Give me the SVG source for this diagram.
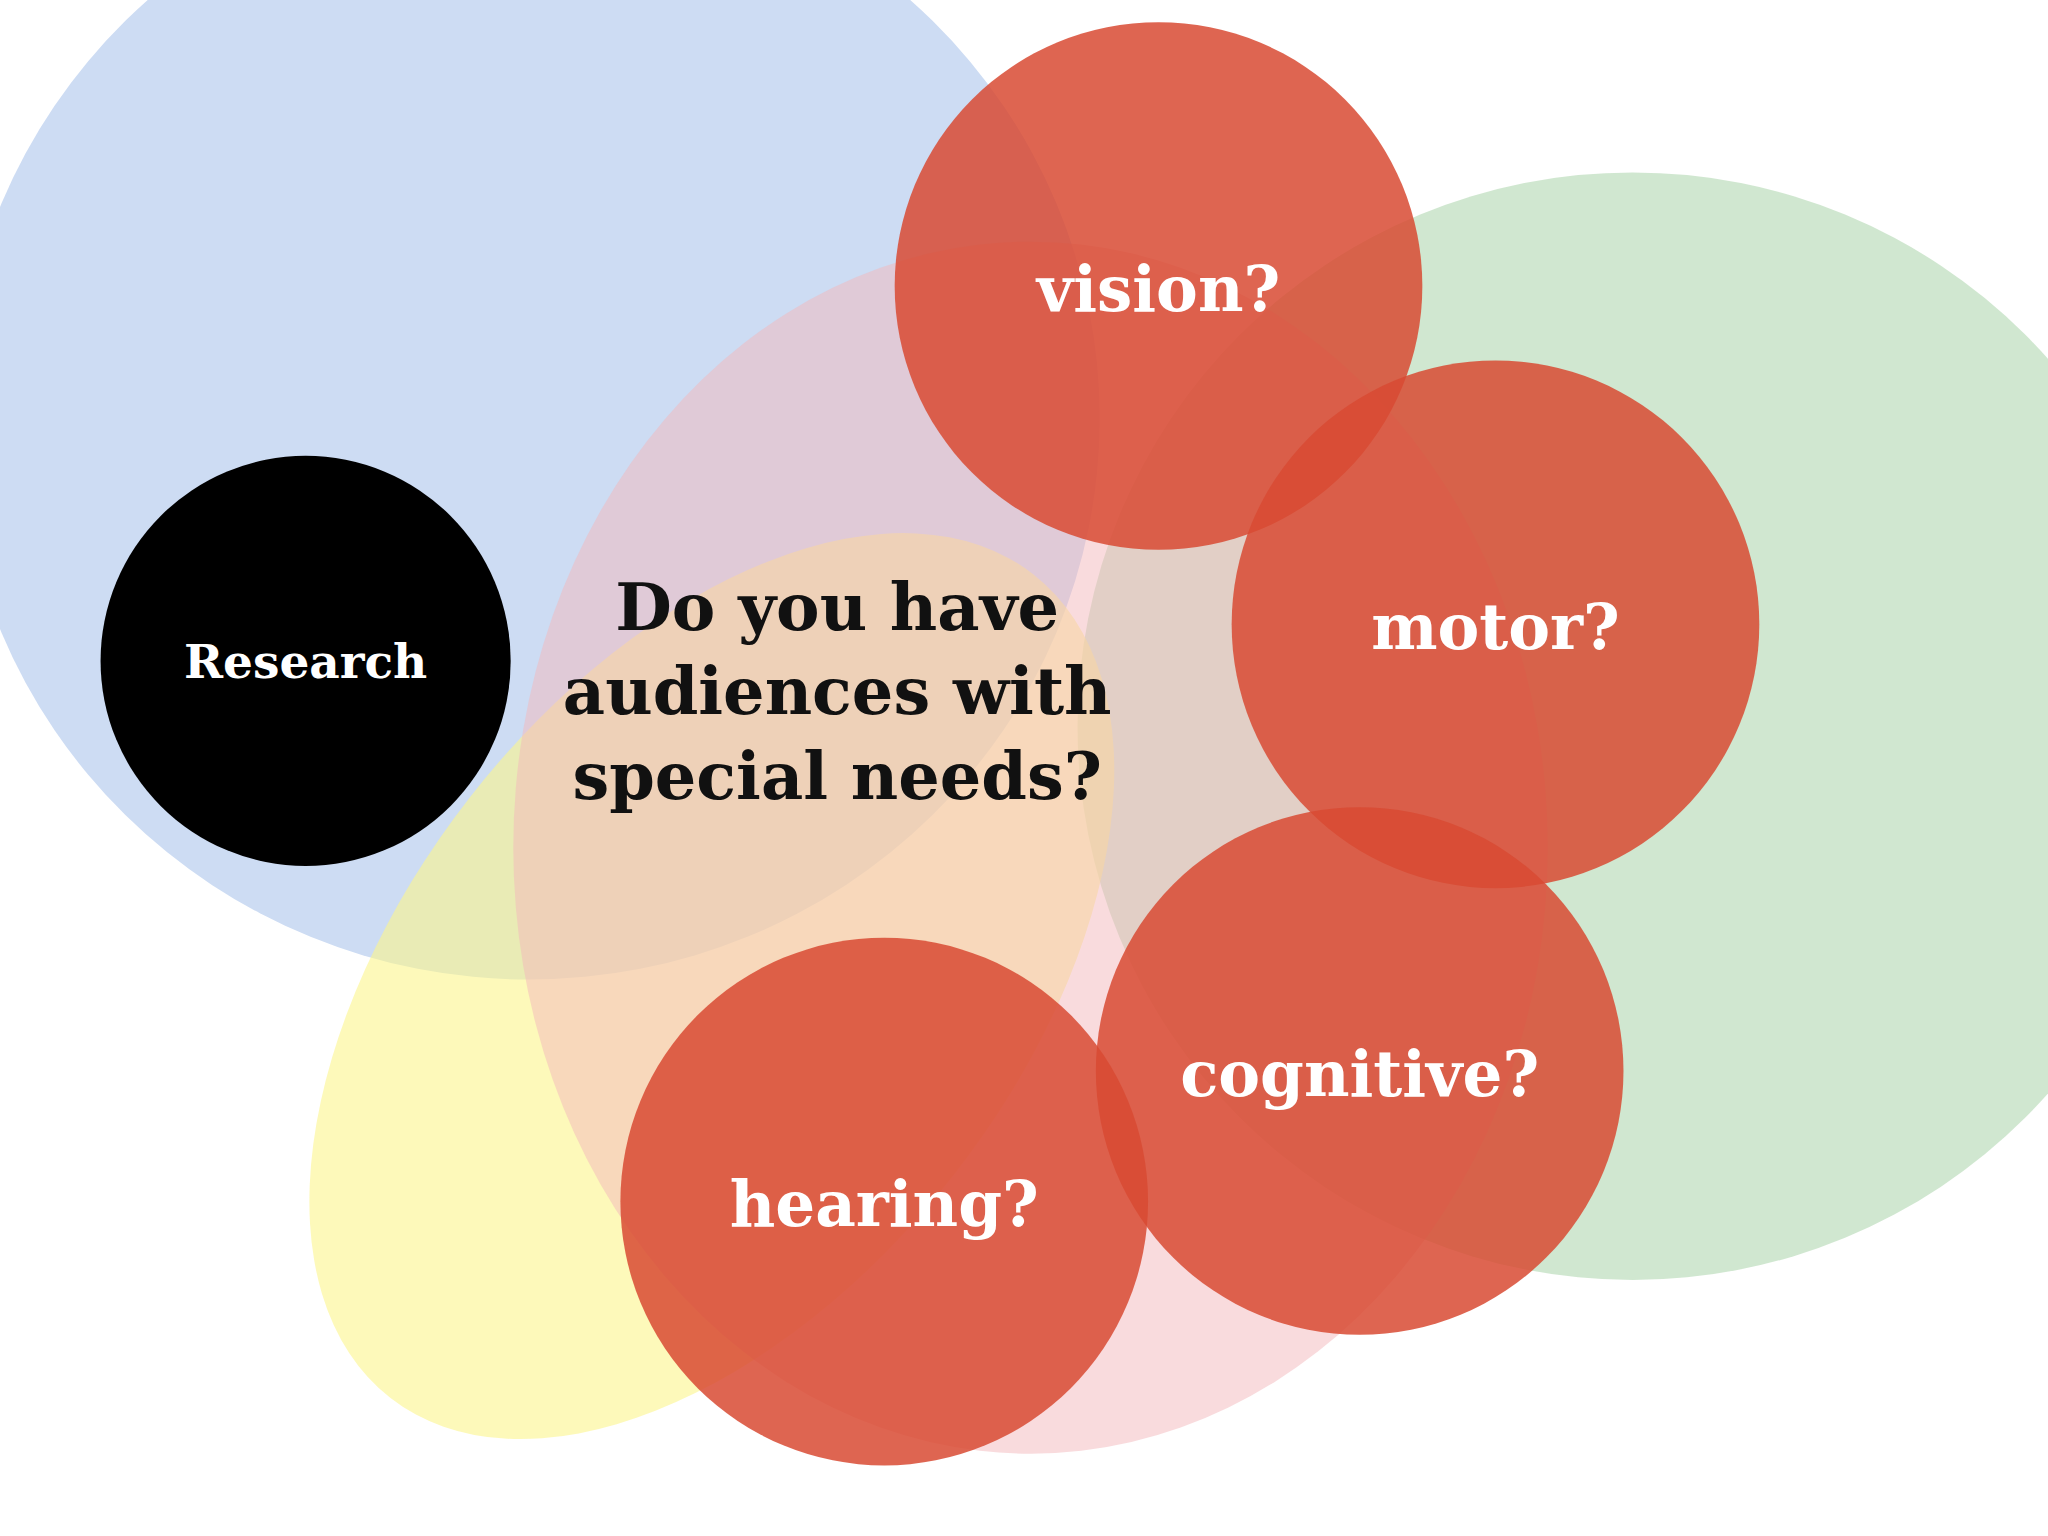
<svg xmlns="http://www.w3.org/2000/svg" width="2048" height="1536" viewBox="0 0 2048 1536">
<style>
.red{fill:#d84a32;fill-opacity:0.85}
.lbl{font-family:"DejaVu Serif","Liberation Serif",serif;font-weight:bold;fill:#fff;text-anchor:middle}
.q{font-family:"DejaVu Serif","Liberation Serif",serif;font-weight:bold;fill:#111;text-anchor:middle;font-size:50px}
</style>
<rect width="2048" height="1536" fill="#fff"/>
<g transform="scale(1.3061)">
<g id="bg">
<ellipse cx="405" cy="320" rx="437" ry="430" fill="#cddcf3"/>
<ellipse cx="1250" cy="556" rx="425" ry="424" fill="#c4e1c4" fill-opacity="0.8"/>
<ellipse cx="545" cy="755" rx="400" ry="235" transform="rotate(-52 545 755)" fill="#fcf58c" fill-opacity="0.6"/>
<ellipse cx="789" cy="649" rx="396" ry="464" fill="#f4b7bb" fill-opacity="0.5"/>
</g>
<g id="center"><text class="q" x="641" y="482">Do you have</text><text class="q" x="641" y="547">audiences with</text><text class="q" x="641" y="612">special needs?</text></g>
<g id="vision"><circle class="red" cx="887" cy="219" r="202"/><text class="lbl" x="887" y="238" font-size="48">vision?</text></g>
<g id="motor"><circle class="red" cx="1145" cy="478" r="202"/><text class="lbl" x="1145" y="497" font-size="48">motor?</text></g>
<g id="cognitive"><circle class="red" cx="1041" cy="820" r="202"/><text class="lbl" x="1041" y="839" font-size="48">cognitive?</text></g>
<g id="hearing"><circle class="red" cx="677" cy="920" r="202"/><text class="lbl" x="677" y="939" font-size="48">hearing?</text></g>
<g id="research"><circle cx="234" cy="506" r="157" fill="#000"/><text class="lbl" x="234" y="519" font-size="36">Research</text></g>
<g id="connectors"/>
</g>
</svg>
